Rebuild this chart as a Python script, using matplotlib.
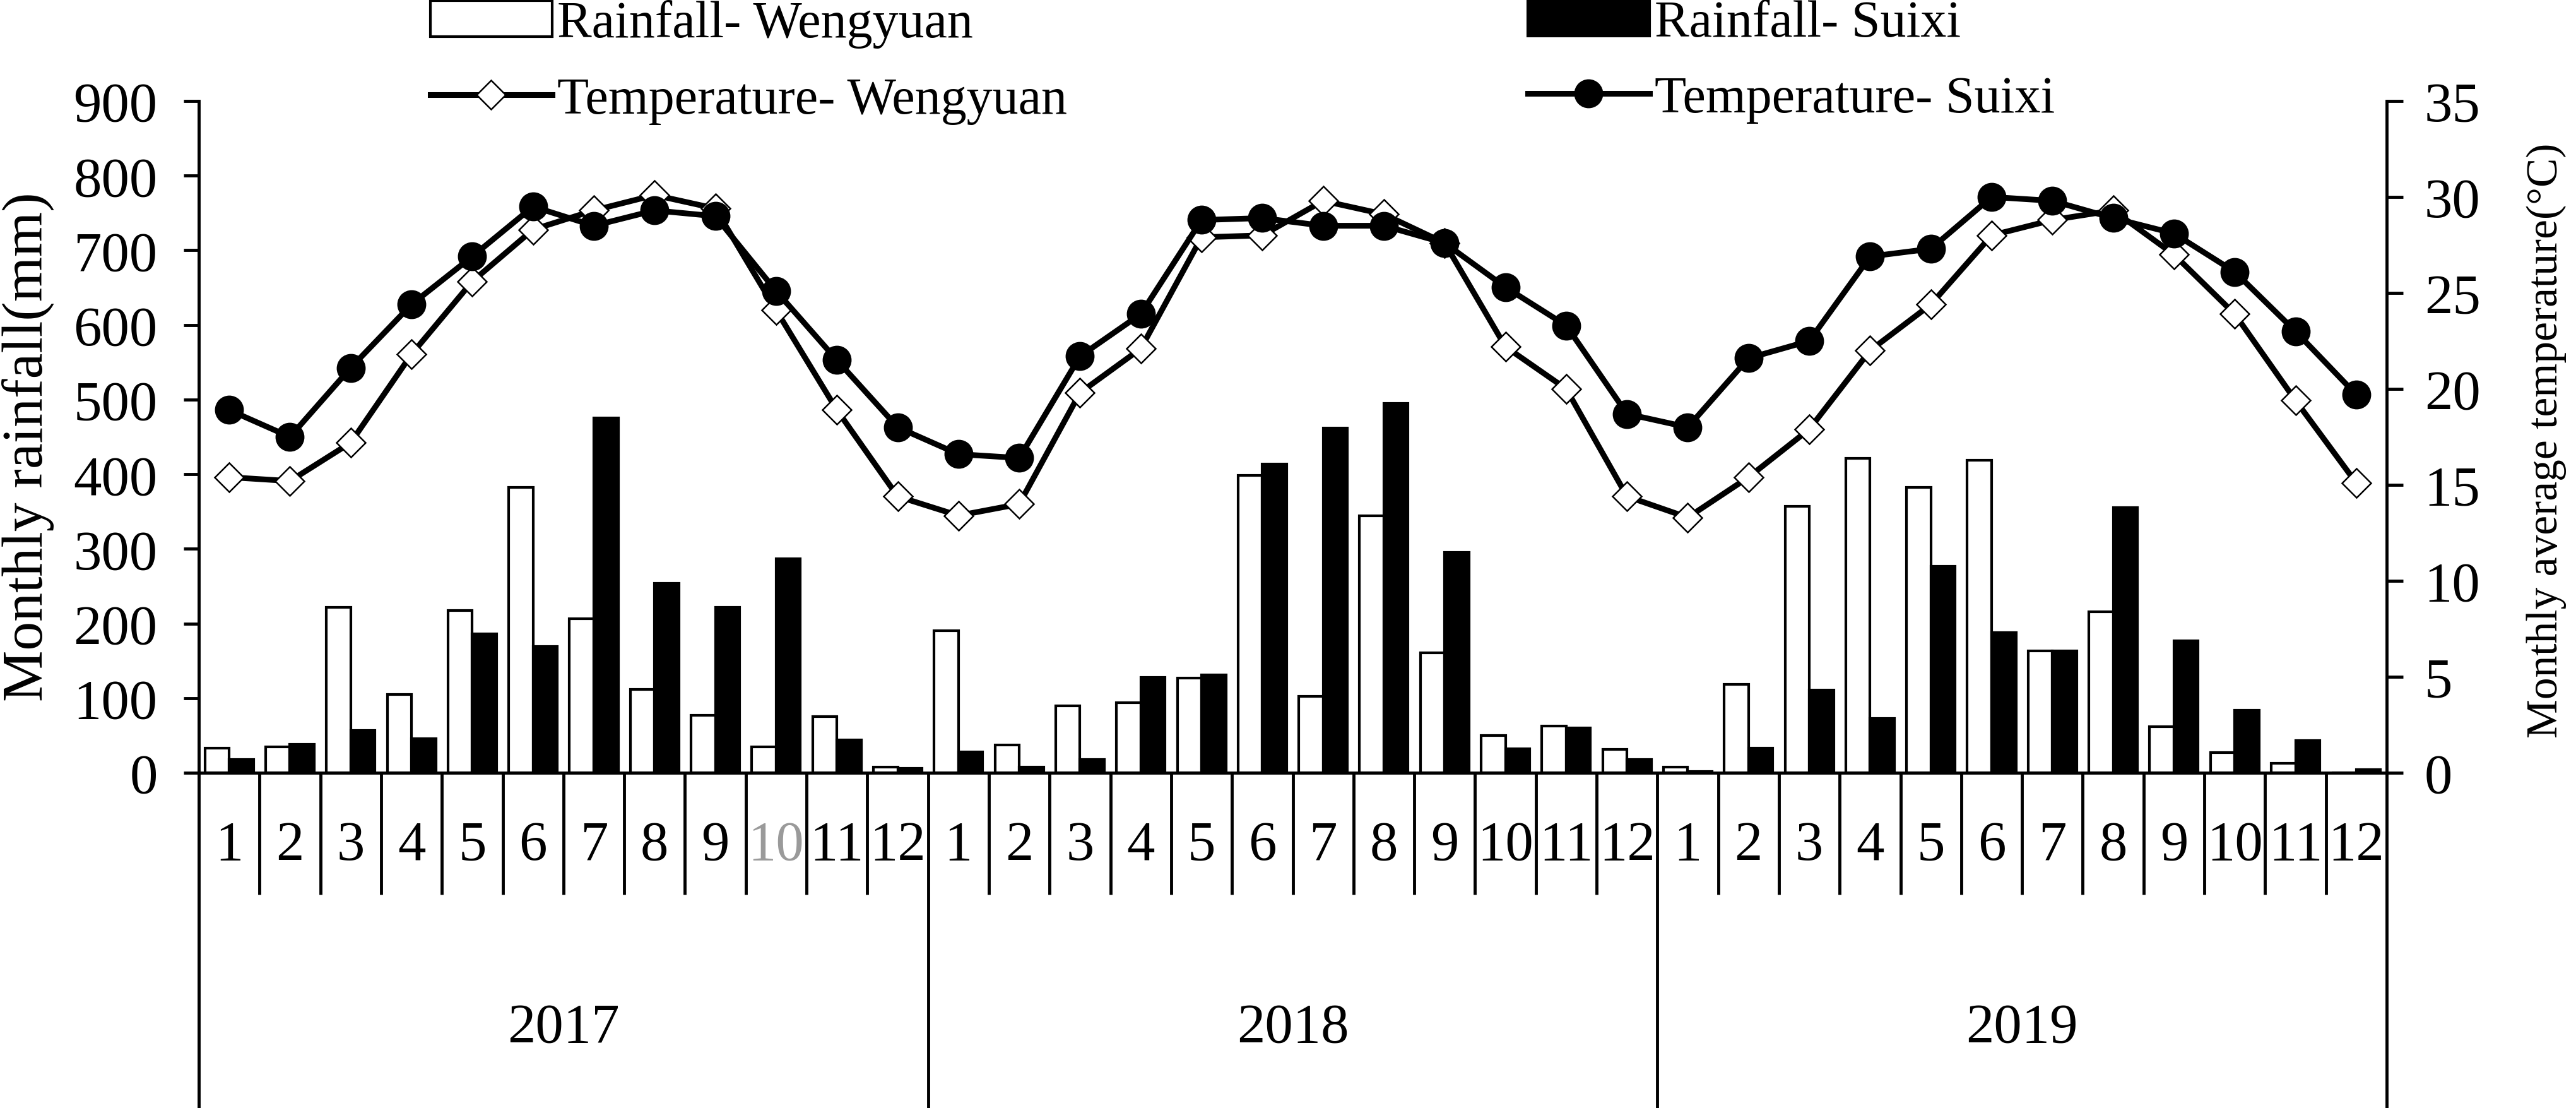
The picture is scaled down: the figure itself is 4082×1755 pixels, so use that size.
import numpy as np
import matplotlib
matplotlib.use('Agg')
import matplotlib.pyplot as plt
import matplotlib.transforms as mtransforms

# ---------------- data ----------------
years = ['2017', '2018', '2019']
months = ['1', '2', '3', '4', '5', '6', '7', '8', '9', '10', '11', '12']

rain_wengyuan = [33, 35, 222, 105, 217, 382, 206, 112, 77, 35, 75, 8,
                 190, 37, 90, 94, 127, 398, 102, 344, 161, 50, 63, 31,
                 7.5, 118, 357, 421, 382, 419, 163, 216, 62, 27, 13, 0]
rain_suixi = [18, 38, 57, 46, 186, 169, 475, 254, 222, 287, 44, 6,
              28, 7.5, 18, 128, 131, 414, 462, 495, 295, 32, 60, 18,
              1.6, 33, 111, 73, 277, 188, 163, 355, 177, 84, 43, 4.4]
temp_wengyuan = [15.4, 15.2, 17.2, 21.8, 25.6, 28.3, 29.3, 30.1, 29.4, 24.1, 18.9, 14.4,
                 13.4, 14.0, 19.8, 22.1, 27.9, 28.0, 29.8, 29.1, 27.6, 22.2, 20.0, 14.4,
                 13.3, 15.4, 17.9, 22.0, 24.4, 28.0, 28.8, 29.3, 27.0, 23.9, 19.4, 15.1]
temp_suixi = [18.9, 17.5, 21.1, 24.4, 26.9, 29.5, 28.5, 29.3, 29.0, 25.1, 21.5, 18.0,
              16.6, 16.4, 21.7, 23.9, 28.8, 28.9, 28.5, 28.5, 27.6, 25.3, 23.3, 18.7,
              18.0, 21.6, 22.5, 26.9, 27.3, 30.0, 29.8, 28.9, 28.1, 26.1, 23.0, 19.7]

series_names = ['Rainfall- Wengyuan', 'Temperature- Wengyuan',
                'Rainfall- Suixi', 'Temperature- Suixi']

# ---------------- figure ----------------
plt.rcParams['font.family'] = ['Liberation Serif', 'DejaVu Serif']
W, H = 4082, 1756
fig = plt.figure(figsize=(W / 100, H / 100), dpi=100)
left, right, top, bottom = 315, 3782, 161, 1225
ax = fig.add_axes([left / W, 1 - bottom / H, (right - left) / W, (bottom - top) / H])
ah = bottom - top

n = len(rain_wengyuan)
x = np.arange(1, n + 1)
bw = 0.4
bars_w = ax.bar(x - bw / 2, rain_wengyuan, bw, facecolor='white', edgecolor='black',
                linewidth=3, zorder=2)
bars_s = ax.bar(x + bw / 2, rain_suixi, bw, facecolor='black', edgecolor='black',
                linewidth=3, zorder=2)
ax.set_xlim(0.5, n + 0.5)
ax.set_ylim(0, 900)
ax.set_yticks(np.arange(0, 901, 100))

ax2 = ax.twinx()
ax2.set_ylim(0, 35)
ax2.set_yticks(np.arange(0, 36, 5))
line_w, = ax2.plot(x, temp_wengyuan, color='black', lw=6.5, marker='D', ms=23,
                   mfc='white', mec='black', mew=1.8, zorder=3)
line_s, = ax2.plot(x, temp_suixi, color='black', lw=6.5, marker='o', ms=32,
                   mfc='black', mec='black', zorder=4)

for a in (ax, ax2):
    a.spines['top'].set_visible(False)
    for s in a.spines.values():
        s.set_linewidth(3.5)
ax.spines['right'].set_visible(False)
ax2.spines['left'].set_visible(False)
ax2.spines['bottom'].set_visible(False)

ax.tick_params(axis='y', direction='out', length=17, width=3.5, labelsize=64, pad=30)
ax2.tick_params(axis='y', direction='out', length=19, width=3.5, labelsize=64, pad=24)

ax.set_xticks(x, labels=months * len(years))
ax.tick_params(axis='x', length=0, labelsize=64, pad=54)
ax.get_xticklabels()[9].set_color('#9a9a9a')

trans = mtransforms.blended_transform_factory(ax.transData, ax.transAxes)
month_seps = [k + 0.5 for k in range(1, n) if k % 12 != 0]
year_seps = [k + 0.5 for k in range(0, n + 1, 12)]
ax.vlines(month_seps, -193 / ah, 0, transform=trans, colors='black', lw=3.5, clip_on=False)
ax.vlines(year_seps, -560 / ah, 0, transform=trans, colors='black', lw=3.5, clip_on=False)
for i, yr in enumerate(years):
    ax.text(12 * i + 6.5, -404 / ah, yr, transform=trans, ha='center', va='center',
            fontsize=64)

fig.text(44 / W, 1 - 708 / H, 'Monthly rainfall(mm)', rotation=90, ha='center',
         va='center', fontsize=66)
fig.text(4035 / W, 1 - 698 / H, 'Monthly average temperature(°C)', rotation=90,
         ha='center', va='center', fontsize=50)

leg_kw = dict(loc='upper left', frameon=False, fontsize=59, handlelength=2.35,
              handletextpad=0.1, labelspacing=0.55, borderpad=0, borderaxespad=0)
fig.legend([bars_w, line_w], [series_names[0], series_names[1]],
           bbox_to_anchor=(682 / W, 1.0), **leg_kw)
fig.legend([bars_s, line_s], [series_names[2], series_names[3]],
           bbox_to_anchor=(2421 / W, 1.0), **leg_kw)

fig.savefig('out.png', dpi=100)
